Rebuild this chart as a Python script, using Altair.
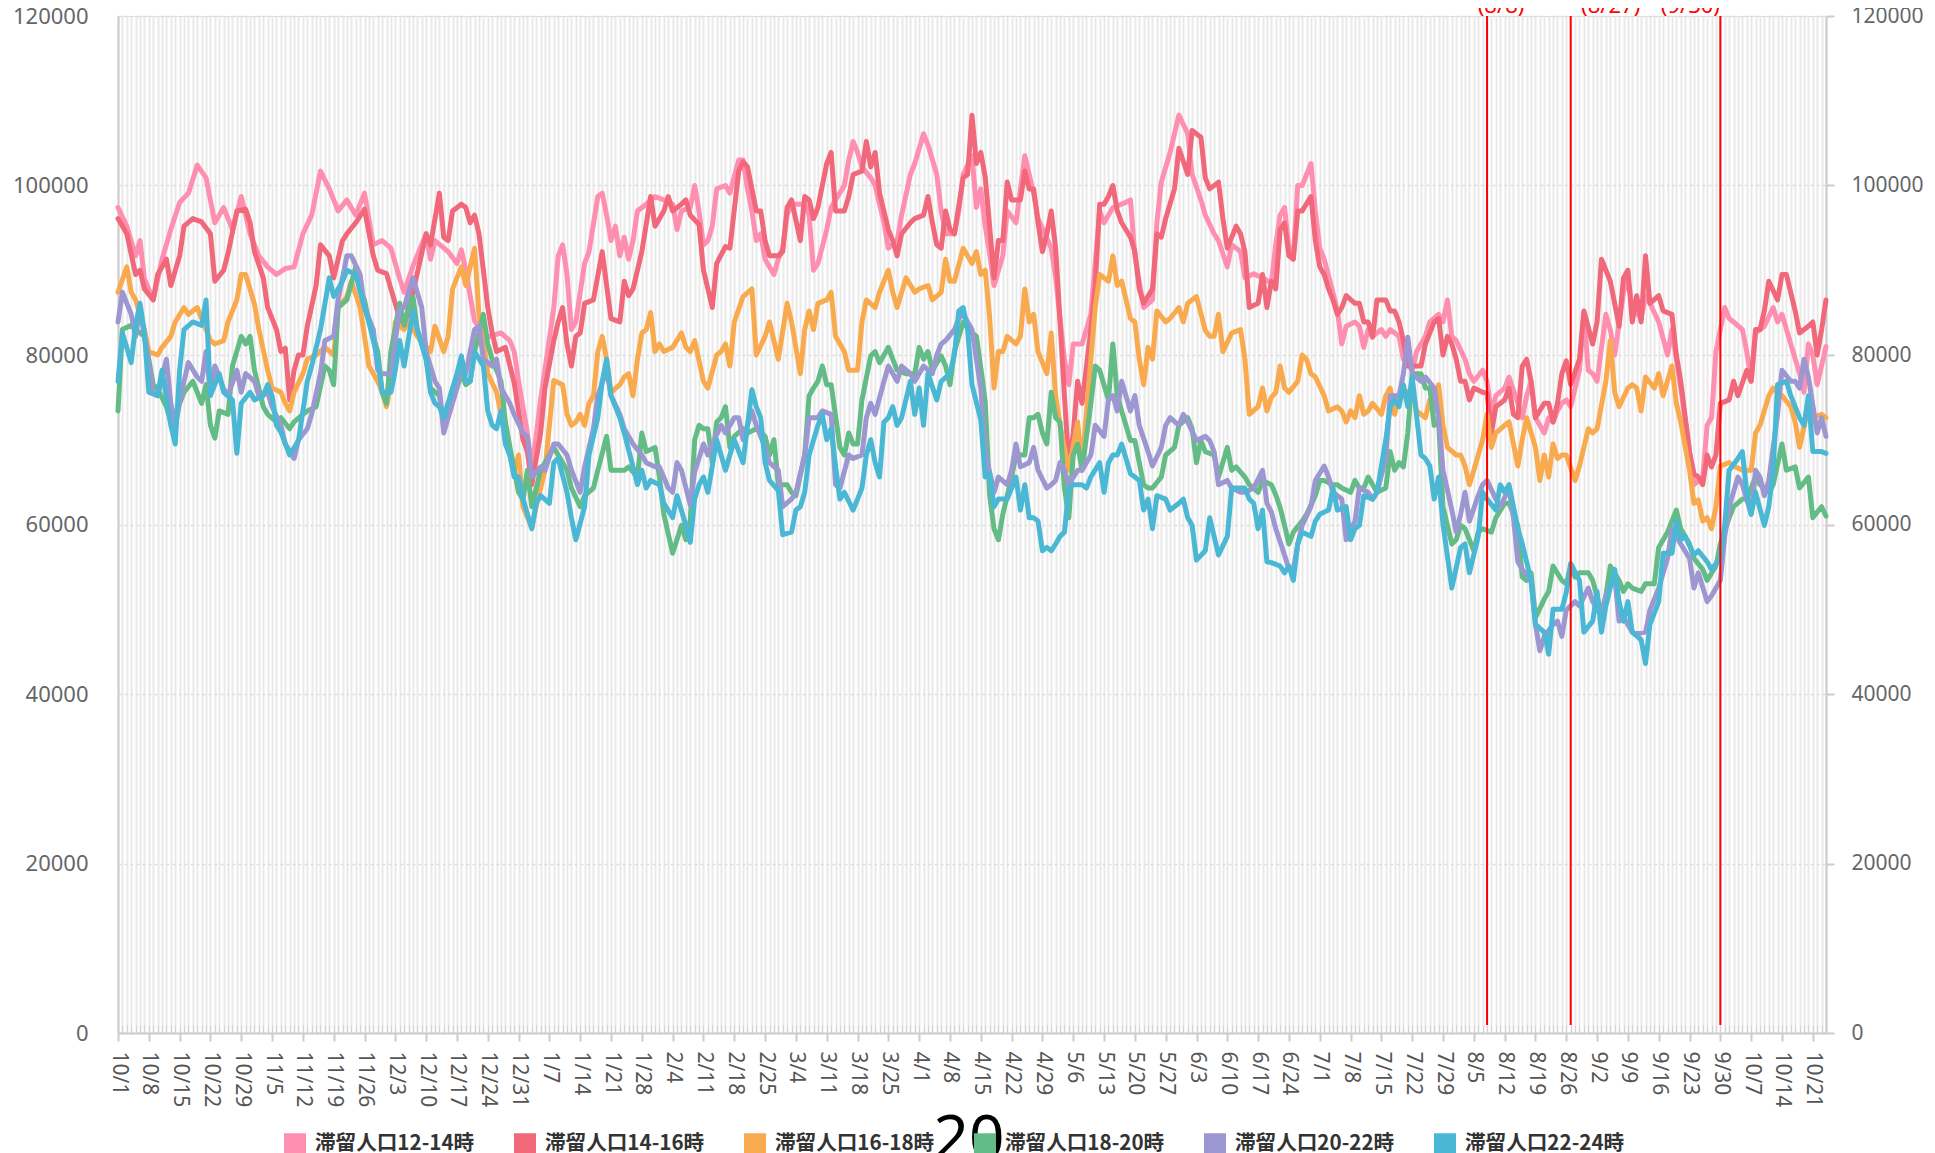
import altair as alt
import pandas as pd

NAMES = ["滞留人口12-14時", "滞留人口14-16時", "滞留人口16-18時",
         "滞留人口18-20時", "滞留人口20-22時", "滞留人口22-24時"]
COLORS = ["#ff8fb1", "#f0687a", "#f9aa4e", "#63bb85", "#9d97d1", "#4ab8d5"]

# (day offset from 2020-10-01, value)
S12_14 = [(0,97400),(2,95200),(4,91700),(5,93500),(6,89000),(8,86500),(10,91300),(12,94800),(14,98000),(16,99100),(18,102400),(20,100900),(22,95600),(24,97400),(26,94800),(28,98700),(30,94300),(32,91700),(34,90400),(36,89500),(38,90200),(40,90400),(42,94300),(44,96500),(46,101700),(48,99600),(50,97000),(52,98300),(54,96500),(56,99100),(58,93000),(60,93500),(62,92600),(64,89000),(65,87400),(67,90500),(70,94300),(71,91300),(72,93500),(75,92200),(77,90800),(78,92400),(79,90000),(81,84000),(84,82100),(87,82600),(89,81700),(90,80400),(91,76900),(93,70800),(94,66400),(96,74700),(99,85600),(100,91700),(101,93000),(102,89500),(103,83000),(104,83900),(105,87400),(106,90800),(107,92200),(109,98700),(110,99100),(111,96500),(112,93500),(113,95200),(114,91700),(115,93900),(116,91300),(117,93500),(118,97000),(120,97800),(122,98700),(124,98300),(126,97800),(127,94800),(128,97000),(130,97400),(131,100000),(132,96900),(133,93000),(134,93500),(135,95200),(136,99600),(138,100000),(139,99100),(141,103000),(142,103000),(143,99600),(144,97000),(145,93500),(146,94300),(147,91300),(149,89500),(150,91300),(151,92600),(152,96500),(153,97800),(155,97800),(156,97800),(157,96500),(158,90000),(159,90800),(161,94800),(162,97400),(163,98300),(165,100000),(166,103000),(167,105200),(168,103900),(169,102200),(171,100900),(172,100000),(174,95600),(175,92600),(177,93500),(178,96500),(180,101300),(181,102600),(183,106100),(184,104800),(186,101300),(187,97000),(188,94300),(190,94300),(191,97000),(192,101300),(194,103500),(195,97400),(196,99600),(197,95200),(198,92000),(199,88200),(201,91700),(202,97000),(204,95600),(206,103500),(208,99100),(209,96100),(212,92600),(213,89100),(215,79500),(216,76500),(217,81300),(219,81300),(221,84800),(223,97000),(224,95600),(226,97400),(228,97800),(230,98300),(231,91700),(233,85600),(235,86500),(236,95600),(237,100400),(239,103900),(241,108300),(243,106100),(244,101300),(246,98300),(247,96500),(249,94300),(250,93500),(252,90400),(253,93000),(255,92200),(256,89100),(258,89600),(260,89100),(262,88500),(263,93000),(264,96500),(265,97400),(266,92600),(267,91700),(268,100000),(269,100000),(271,102600),(272,97000),(273,92600),(274,91300),(276,87400),(277,85200),(278,81300),(279,83400),(281,83900),(282,83400),(283,80900),(284,83000),(285,82200),(287,83000),(288,82200),(289,83000),(291,82200),(292,79500),(294,78200),(295,80400),(297,82200),(298,83900),(300,84800),(301,83900),(302,86500),(303,82200),(304,81700),(306,79500),(307,77800),(308,76900),(310,78200),(311,76900),(312,73000),(313,75200),(315,76100),(316,77400),(318,74300),(319,72600),(320,75200),(321,76900),(322,72600),(324,70800),(325,72600),(326,72100),(327,73400),(328,74300),(329,74700),(330,73900),(332,78200),(333,84800),(334,78200),(335,77800),(336,76900),(338,84800),(339,83000),(340,80000),(342,87400),(343,89100),(344,85600),(346,84300),(347,87000),(348,86100),(350,83900),(352,80000),(353,83000),(354,79500),(355,76100),(357,68600),(358,64700),(360,65600),(361,71700),(362,72600),(363,80400),(365,85600),(366,84300),(367,83900),(369,83000),(370,80400),(371,76900),(372,82600),(374,83400),(376,85600),(377,83900),(378,84800),(380,81300),(382,77800),(383,75600),(384,81300),(385,80000),(386,76500),(388,81000)]

S14_16 = [(0,96100),(2,94300),(4,89500),(5,90000),(6,87800),(8,86500),(9,89500),(11,91300),(12,88200),(14,91700),(15,95200),(17,96100),(19,95700),(21,94300),(22,88700),(24,90000),(25,92000),(27,97000),(29,97200),(30,95600),(31,92200),(33,89100),(34,85600),(36,83000),(37,80400),(38,80800),(39,74700),(40,78200),(41,80000),(42,80000),(43,83400),(45,88200),(46,93000),(48,91700),(49,89100),(51,93500),(52,94300),(54,95600),(56,97200),(58,91700),(59,90000),(61,89600),(62,87800),(64,84300),(65,83400),(66,85000),(67,87400),(70,94300),(71,93000),(73,99100),(74,93900),(75,93500),(76,97000),(78,97800),(79,97400),(80,95600),(81,96500),(82,94300),(83,90000),(84,85600),(85,82600),(86,80400),(88,80900),(90,76700),(92,70000),(93,68600),(94,64700),(96,70800),(97,76100),(99,81700),(100,83900),(101,85600),(102,81300),(103,78700),(104,82200),(105,82600),(106,86100),(108,86500),(110,92200),(111,88200),(112,84300),(114,83900),(115,88700),(116,87000),(117,87800),(119,92200),(121,98700),(122,95200),(124,97000),(125,98700),(126,97000),(128,97800),(129,98300),(130,96500),(132,95400),(133,90000),(135,85600),(136,90800),(138,92800),(139,92600),(141,101700),(142,102800),(143,102200),(145,97000),(146,97000),(147,93500),(148,91700),(150,91700),(151,92200),(152,97400),(153,98300),(155,93500),(156,98700),(157,98300),(158,96100),(159,97400),(161,102600),(162,103900),(163,97000),(165,97000),(166,98700),(167,101300),(169,101700),(170,105200),(171,102200),(172,103900),(173,99100),(175,94800),(176,93500),(177,91700),(178,94300),(180,95600),(181,96100),(183,96500),(184,98700),(185,95600),(186,93000),(187,92600),(188,97000),(189,94800),(190,94300),(192,100900),(193,101300),(194,108300),(195,102600),(196,103900),(197,101000),(198,95200),(199,89100),(200,93500),(201,93500),(202,100400),(203,98300),(205,98300),(206,101700),(207,99600),(208,99600),(209,95600),(210,92200),(211,94300),(212,97000),(213,92600),(214,83900),(215,75200),(216,66900),(217,70800),(218,76900),(219,74300),(221,83000),(222,88200),(223,97800),(224,97800),(225,98700),(226,100000),(227,97000),(228,95600),(230,93900),(231,92200),(232,87800),(233,86100),(235,87800),(236,94300),(237,93900),(238,96100),(240,99600),(241,104400),(243,101300),(244,106500),(246,105700),(247,100900),(248,99600),(250,100400),(251,96100),(252,92600),(254,95200),(255,94300),(256,92200),(257,85600),(259,86100),(260,89500),(261,85600),(262,88700),(263,87800),(264,94800),(265,95600),(266,91700),(267,91300),(268,97000),(269,97000),(271,98700),(272,93500),(273,90400),(274,89500),(275,87800),(276,86500),(277,84800),(278,85600),(279,87000),(281,86100),(282,86100),(283,83900),(284,83900),(285,82100),(286,86500),(288,86500),(289,85200),(290,85200),(291,83900),(292,81700),(293,78700),(294,78700),(296,78700),(297,81300),(299,83900),(300,84300),(301,80000),(302,82200),(303,81300),(304,79500),(305,76900),(306,76900),(307,74700),(308,76100),(310,75600),(311,75500),(312,70800),(313,73900),(315,74700),(316,76100),(317,73000),(318,72600),(319,78700),(320,79500),(321,76900),(322,72600),(324,74300),(325,74300),(326,72100),(327,74300),(328,77800),(329,79300),(330,76500),(332,79500),(333,85200),(335,81300),(336,83900),(337,91300),(339,88700),(341,83400),(342,89100),(343,90000),(344,83900),(345,87000),(346,83900),(347,91700),(348,86100),(350,87000),(351,85200),(353,84800),(354,80000),(355,76900),(357,68600),(358,66000),(359,65600),(360,64700),(361,68200),(362,66800),(363,68200),(364,74300),(366,74700),(367,76900),(368,75200),(370,78200),(371,76900),(372,83000),(373,83000),(374,85200),(375,88700),(377,86500),(378,89500),(379,89500),(381,85200),(382,82600),(384,83400),(385,83900),(386,80000),(387,83000),(388,86500)]

S16_18 = [(0,87400),(2,90400),(3,87400),(4,86500),(6,83000),(7,80400),(9,80000),(10,80900),(12,82200),(13,83900),(15,85600),(16,84800),(18,85600),(19,84300),(21,81700),(22,81300),(24,81700),(25,83900),(27,86500),(28,89500),(29,89500),(31,86000),(32,83000),(34,78200),(35,76100),(37,75600),(38,74300),(39,73400),(40,75600),(42,77800),(43,79500),(45,80000),(47,80900),(49,80000),(50,85600),(52,86900),(53,88700),(55,85600),(56,82200),(57,78700),(59,76900),(60,75600),(61,73900),(62,76900),(63,83900),(65,83000),(66,84000),(68,82200),(71,80400),(72,83400),(74,80400),(75,82200),(76,87800),(77,89100),(78,90400),(79,88200),(81,92600),(82,84800),(83,81700),(84,77800),(86,75600),(87,73000),(89,68200),(90,66400),(91,68200),(92,62100),(94,59600),(95,62100),(97,66400),(98,71700),(99,77000),(101,76500),(102,73000),(103,71700),(104,72100),(105,73000),(106,71700),(107,74300),(108,75200),(109,80400),(110,82200),(111,79500),(112,75600),(114,76500),(115,77400),(116,77800),(117,75200),(118,79500),(119,82600),(120,83000),(121,85000),(122,80400),(123,81300),(124,80400),(126,80900),(128,82600),(129,80900),(130,80400),(131,81700),(133,76900),(134,76100),(136,80000),(137,80400),(138,81300),(139,78700),(140,83900),(142,86900),(144,87800),(145,80000),(147,82200),(148,83900),(149,81700),(150,79500),(152,86100),(153,83900),(155,77800),(156,83000),(157,85200),(158,83000),(159,86100),(161,86500),(162,87400),(163,82200),(165,80400),(166,78200),(168,78200),(169,83900),(170,86500),(172,85600),(173,87400),(175,90000),(176,87400),(177,85600),(179,89100),(181,87400),(182,87800),(184,88200),(185,86500),(187,87400),(188,91300),(189,88700),(190,88700),(192,92600),(194,90800),(195,92200),(196,89500),(197,90000),(198,84500),(199,76100),(200,80400),(201,80400),(202,82200),(204,81300),(205,82200),(206,87800),(207,83900),(208,84800),(209,80400),(211,77800),(212,82600),(213,75200),(214,71700),(216,66400),(218,72100),(219,66900),(221,79500),(222,85600),(223,89500),(225,88700),(226,91700),(227,88200),(228,88700),(230,84300),(231,83900),(232,79500),(233,76500),(234,80900),(235,79500),(236,85200),(238,83900),(239,84300),(241,85600),(242,83900),(243,86100),(245,86900),(247,82900),(248,82200),(249,82200),(250,84800),(251,80400),(253,82600),(255,83000),(256,79500),(257,73000),(259,73900),(260,76100),(261,73400),(262,75000),(263,75600),(264,78700),(265,76100),(266,75600),(268,76900),(269,80000),(270,79500),(271,77800),(272,77400),(274,75200),(275,73400),(277,73900),(278,73400),(279,72100),(280,73400),(281,72600),(282,75200),(283,73000),(284,73400),(285,74300),(287,73000),(288,75200),(289,76100),(290,73000),(291,75200),(293,75600),(294,76100),(295,73400),(297,72600),(298,74700),(299,73400),(300,76500),(301,71700),(302,69100),(304,68200),(305,68200),(306,66900),(307,64700),(308,66400),(310,70000),(311,73000),(312,69100),(313,70800),(315,71700),(316,72100),(317,69500),(318,66900),(319,70000),(320,72600),(322,69100),(323,65200),(324,68200),(325,65600),(326,69500),(327,67800),(328,68200),(329,68200),(331,65200),(332,66900),(334,71300),(335,70800),(336,71300),(338,76900),(339,81700),(340,75600),(341,73900),(343,76100),(344,76500),(345,76100),(346,73400),(347,77400),(349,76100),(350,77800),(351,75200),(353,78700),(354,74300),(355,72100),(357,66400),(358,62500),(359,62900),(360,60400),(361,60800),(362,59500),(363,62100),(364,66900),(366,67300),(367,66900),(369,66400),(370,66400),(371,66400),(372,70800),(373,71700),(375,75200),(376,76100),(377,75600),(378,75200),(380,73900),(381,72100),(382,69100),(384,73900),(385,72600),(387,73000),(388,72600)]

S18_20 = [(0,73400),(1,83000),(3,83500),(4,83000),(6,82200),(7,79500),(8,76500),(9,76000),(11,73900),(12,72100),(13,73000),(15,75600),(17,76900),(18,75600),(19,74300),(20,76500),(21,71700),(22,70200),(23,73400),(25,73000),(26,78700),(28,82200),(29,81300),(30,82200),(31,78200),(33,73900),(34,73000),(36,72100),(37,72600),(39,71300),(40,72100),(42,73000),(43,73400),(45,73900),(47,78700),(48,78200),(49,76500),(50,85600),(52,86500),(54,90400),(55,87800),(56,86500),(57,83900),(59,80400),(60,75600),(61,74300),(62,80400),(64,86100),(65,83500),(66,85600),(67,86900),(68,83000),(70,79500),(71,76100),(73,75200),(74,71700),(75,74300),(77,76100),(78,77800),(79,76500),(80,76900),(81,80400),(83,84800),(84,81300),(85,79500),(87,76900),(88,72100),(90,66400),(91,63800),(92,62900),(93,66400),(94,62100),(96,66400),(97,67300),(99,69100),(100,68200),(102,66400),(103,64300),(105,62100),(106,63400),(108,64300),(109,66400),(111,70400),(112,66400),(113,66400),(115,66400),(116,66800),(118,65600),(119,70800),(120,68600),(122,69100),(123,65600),(124,61200),(126,56600),(128,59900),(129,58200),(130,60500),(131,70000),(132,71700),(133,71300),(134,71300),(135,67300),(136,72100),(137,72600),(138,73900),(139,69100),(140,70400),(142,71300),(143,70800),(145,71300),(147,70400),(148,68200),(149,70000),(150,64700),(152,64700),(153,63800),(154,63400),(156,68200),(157,75200),(158,76100),(159,76900),(160,78700),(161,76500),(162,76500),(164,69100),(165,68200),(166,70800),(167,69500),(168,69500),(169,74700),(171,79900),(172,80400),(173,79100),(175,80900),(176,79500),(177,78200),(179,77800),(181,77800),(182,80900),(183,79500),(184,80400),(185,78200),(187,79900),(188,78700),(189,76500),(190,80400),(192,83900),(194,82600),(195,82200),(196,78500),(197,74500),(198,63500),(199,59500),(200,58200),(201,61200),(203,65600),(204,68200),(206,68200),(207,72600),(208,72600),(209,73000),(210,70800),(211,69500),(212,75600),(213,72600),(214,72100),(215,64300),(216,60800),(217,68200),(218,69500),(219,66400),(221,74300),(222,78700),(223,78200),(225,74700),(226,81300),(227,75200),(228,73400),(230,69900),(231,69900),(233,64700),(234,64300),(235,64300),(237,65600),(238,68200),(240,69100),(241,71700),(243,72600),(244,71300),(245,67300),(246,69900),(247,68600),(249,68200),(250,65600),(252,69100),(253,66400),(254,66800),(256,65600),(257,64700),(259,63800),(260,65200),(262,64700),(263,63500),(264,62000),(265,59900),(266,57700),(267,59100),(269,60400),(270,61200),(272,63400),(273,65200),(274,65200),(276,64700),(277,64700),(278,64300),(280,63800),(281,65200),(282,64300),(283,64300),(284,65600),(286,63800),(288,64300),(289,68600),(290,66400),(291,67300),(292,66800),(293,70800),(294,77800),(296,77800),(297,76100),(298,76100),(299,71700),(300,72100),(301,62100),(303,57700),(304,58200),(305,59900),(306,59500),(308,56900),(309,59100),(310,59500),(312,59100),(313,60800),(315,62500),(316,62500),(318,59900),(319,53800),(320,53400),(321,54300),(322,49000),(324,51200),(325,52100),(326,55100),(328,53400),(329,53000),(330,55100),(331,53800),(332,54300),(334,54300),(335,53400),(337,49500),(338,51600),(339,55100),(341,53400),(342,52100),(343,53000),(344,52500),(346,52100),(347,53000),(349,53000),(350,57300),(352,59100),(353,60400),(354,61700),(355,59500),(357,57700),(358,56000),(360,54700),(361,53400),(363,55100),(364,57700),(366,60800),(367,62100),(369,63000),(370,63000),(372,65600),(373,64700),(375,63800),(376,64700),(378,69500),(379,66400),(381,66800),(382,64300),(384,65600),(385,60800),(387,62100),(388,61000)]

S20_22 = [(0,83900),(1,87400),(3,84800),(4,82200),(5,85600),(6,82200),(8,75600),(9,75200),(11,79500),(12,74300),(13,71700),(15,76900),(16,79100),(18,77400),(19,76900),(20,80400),(21,75600),(22,78700),(24,76000),(25,75200),(27,78200),(28,75600),(29,77800),(31,76900),(32,75200),(34,75600),(35,73900),(37,71700),(38,69500),(40,67800),(41,70000),(43,71300),(44,73000),(46,77800),(47,81700),(49,82200),(50,86500),(52,91700),(53,91700),(55,89500),(56,85600),(58,83000),(59,78200),(60,77800),(62,77800),(64,85500),(65,85600),(67,89100),(69,85600),(70,80400),(72,76900),(73,76100),(74,70800),(75,72600),(77,76100),(78,79500),(79,77800),(81,83000),(82,83400),(83,79500),(85,78700),(86,79500),(87,76100),(89,74300),(90,73000),(92,70800),(93,70400),(94,65600),(96,66800),(97,66400),(99,69500),(100,69500),(102,68200),(103,66400),(105,63800),(106,66800),(108,71300),(109,75200),(111,78200),(112,75200),(114,73000),(115,71300),(117,69500),(119,68200),(120,67300),(122,66800),(123,66800),(125,64300),(126,63800),(127,67300),(128,66400),(130,62300),(131,66200),(133,69500),(134,68200),(135,69500),(137,71700),(138,70800),(140,72600),(141,72600),(142,70000),(144,73400),(145,71700),(147,69100),(148,67300),(150,66400),(151,62100),(153,63000),(154,63800),(156,68200),(157,72600),(159,72600),(160,73400),(162,73000),(163,64700),(164,64300),(166,68200),(167,67800),(169,68200),(170,72600),(171,74300),(172,73000),(174,76900),(175,78700),(177,76900),(178,78700),(180,77800),(181,76900),(183,78700),(185,77800),(186,80000),(187,81300),(188,81700),(190,83000),(191,84300),(192,84800),(194,83000),(196,76000),(197,68600),(199,63800),(200,65600),(202,64700),(203,66400),(204,69500),(205,66800),(207,67300),(208,69100),(209,66400),(211,64300),(212,64700),(213,65200),(214,67300),(215,66400),(216,64700),(218,66400),(219,66400),(221,68200),(222,71700),(224,70400),(225,74700),(226,75200),(227,73400),(228,76900),(230,73400),(231,75200),(232,71700),(234,68600),(235,66900),(237,69100),(238,71700),(239,72600),(241,71700),(242,73000),(243,72100),(245,69900),(247,70400),(248,69900),(249,68600),(250,64700),(252,65200),(253,64300),(255,63800),(256,63800),(258,64300),(260,66400),(261,62500),(262,61500),(263,59500),(265,56400),(266,54700),(267,54700),(268,57700),(269,59900),(271,62100),(272,65200),(274,66900),(275,65600),(276,63800),(278,63000),(279,58200),(281,60400),(282,64300),(284,63800),(285,63000),(286,63800),(288,67800),(289,75200),(291,75200),(292,77800),(293,82100),(294,77800),(296,76900),(297,77400),(299,76100),(300,72600),(301,66400),(303,61700),(304,59100),(305,61200),(306,63800),(307,60400),(309,63400),(310,64700),(311,65200),(313,63000),(314,62100),(316,64300),(317,60800),(318,55600),(319,54700),(321,53400),(322,48200),(323,45100),(324,46800),(326,48200),(327,48600),(328,46800),(329,49900),(331,50900),(332,50400),(334,52500),(335,50900),(337,49100),(338,51600),(340,53800),(341,48600),(342,49100),(344,47300),(345,47100),(347,47300),(348,49900),(350,52500),(352,56000),(353,59500),(355,57700),(357,56000),(358,52500),(359,54300),(361,50900),(362,51600),(364,53400),(365,58600),(366,62100),(368,65600),(369,64700),(371,61200),(372,66400),(373,65600),(374,63400),(375,65200),(377,73000),(378,78200),(380,76900),(381,76900),(382,76100),(383,79500),(384,77400),(386,70800),(387,72600),(388,70400)]

S22_24 = [(0,76900),(1,82600),(3,79100),(4,83500),(5,86100),(6,82600),(7,75600),(9,75200),(10,78200),(12,71700),(13,69500),(14,78200),(15,83000),(17,83900),(19,83500),(20,86500),(21,75200),(23,77800),(24,75600),(26,74700),(27,68400),(28,74300),(30,75600),(31,74700),(33,75200),(34,76500),(35,75200),(36,71700),(37,70900),(39,68200),(41,69900),(43,76900),(44,78700),(46,83000),(48,89100),(49,86900),(51,88700),(52,90000),(54,89500),(56,85600),(57,83900),(59,79500),(60,75600),(62,75600),(63,78200),(64,81700),(65,78700),(67,85200),(68,83000),(70,79500),(71,75600),(72,74300),(73,73900),(74,72600),(76,76100),(77,77800),(78,79900),(79,76900),(80,76900),(81,80400),(83,78700),(84,73400),(85,71700),(86,71300),(87,73400),(88,69500),(89,68200),(90,65600),(91,65600),(92,63000),(94,59500),(95,62500),(96,63400),(98,62500),(99,67300),(100,67800),(102,63800),(103,60800),(104,58200),(106,62100),(107,68200),(109,72600),(110,76900),(111,79500),(112,75200),(114,72600),(115,70800),(117,66800),(118,64700),(119,66400),(120,64300),(121,65200),(123,64700),(124,62500),(126,60800),(127,63400),(129,59900),(130,57900),(131,63000),(132,64700),(133,65600),(134,63800),(136,70000),(137,68200),(138,66400),(139,68200),(140,70000),(142,67300),(143,71700),(144,75900),(145,73900),(146,72600),(147,67300),(148,65200),(150,64000),(151,58800),(153,59100),(154,61700),(155,62100),(156,63800),(157,68200),(159,71700),(160,73000),(161,70000),(162,71300),(163,66900),(164,63000),(165,63800),(167,61700),(169,64300),(170,68200),(171,70000),(172,67300),(173,65600),(174,72100),(175,72600),(176,73900),(177,71700),(178,72600),(180,76900),(181,73000),(182,76100),(183,71700),(184,77800),(186,74700),(187,76900),(189,77800),(190,80000),(191,85200),(192,85600),(193,83000),(194,76500),(196,72300),(197,65600),(198,66000),(199,62100),(200,63000),(202,63000),(203,64300),(204,65600),(205,61700),(206,64700),(207,60800),(208,60800),(209,60400),(210,56900),(211,57300),(212,56900),(213,57700),(214,58600),(215,59100),(216,64300),(217,64700),(219,64700),(220,64300),(221,65600),(223,67300),(224,63800),(225,67300),(226,68200),(227,68200),(228,69500),(230,66000),(231,65600),(232,65200),(233,61700),(234,63000),(235,59500),(236,63400),(238,63000),(239,61700),(241,62500),(242,63000),(243,60800),(244,59900),(245,55800),(247,56900),(248,60800),(249,58600),(250,56400),(252,58600),(253,64300),(254,64300),(256,64300),(257,63000),(258,62500),(259,59500),(260,61700),(261,55600),(262,55500),(264,55100),(265,54300),(266,55100),(267,53400),(268,57700),(269,59100),(271,58600),(272,60400),(273,61200),(275,61700),(276,64300),(277,61700),(279,62100),(280,58200),(281,59500),(282,59900),(283,63400),(285,63000),(286,63800),(288,70000),(289,73900),(290,74700),(291,73900),(292,76500),(293,73900),(294,77400),(296,68200),(297,67800),(298,66900),(299,63000),(300,65600),(301,60000),(303,52500),(305,57300),(306,57700),(307,54300),(309,58600),(310,63800),(311,63000),(313,61700),(314,64700),(315,63800),(316,64700),(318,59500),(319,57700),(320,55600),(321,53400),(322,48200),(324,47300),(325,44700),(326,50000),(328,50000),(329,52000),(330,55400),(332,53400),(333,47300),(335,48600),(336,52100),(337,47300),(338,50400),(340,54700),(341,50900),(342,48600),(343,50900),(344,47300),(346,46400),(347,43600),(348,48200),(350,50900),(351,56600),(353,56600),(354,60400),(355,58200),(356,58600),(358,56400),(359,56900),(361,55600),(362,54700),(364,56000),(365,60000),(366,66400),(368,67800),(369,68600),(370,63800),(371,61200),(372,63800),(374,59900),(375,62100),(376,66400),(377,76500),(379,76900),(380,75200),(382,72600),(383,71700),(384,75200),(385,68600),(387,68600),(388,68400)]

ANNOT_DAYS = [311, 330, 364]
ANNOT_LABELS = ["(8/8)", "(8/27)", "(9/30)"]
LAST_DAY = 388
Y_TICKS = [0, 20000, 40000, 60000, 80000, 100000, 120000]

SERIES = [S12_14, S14_16, S16_18, S18_20, S20_22, S22_24]
rows = []
for name, pts in zip(NAMES, SERIES):
    for d, v in pts:
        rows.append({"day": d, "value": v, "series": name})
df = pd.DataFrame(rows)

W, H = 1708, 1017
FONT = "Noto Sans"
CJK = "Noto Sans CJK JP"

xscale = alt.Scale(domain=[0, LAST_DAY], nice=False, zero=False)
yscale = alt.Scale(domain=[0, 120000], nice=False)
cscale = alt.Scale(domain=NAMES, range=COLORS)

legend = alt.Legend(
    title=None, orient="none", legendX=166, legendY=1117, direction="horizontal",
    columns=6, symbolType="square", symbolSize=121, symbolStrokeWidth=11,
    symbolOpacity=1, labelFontSize=20.6, labelFont=CJK, labelColor="#333333",
    labelFontWeight="bold", labelOffset=9, columnPadding=22, labelLimit=400, padding=0,
)

x_grid_axis = alt.Axis(orient="bottom", values=list(range(0, LAST_DAY + 1)), grid=True,
                       gridColor="#e9e9e9", gridWidth=2, domain=False, ticks=False,
                       labels=False, title=None)
x_minor_axis = alt.Axis(orient="bottom", values=list(range(0, LAST_DAY + 1)), grid=False,
                        domain=False, ticks=True, tickSize=8, tickColor="#d4d4d4",
                        tickWidth=1, labels=False, offset=-8, title=None)
x_main_axis = alt.Axis(orient="bottom", values=list(range(0, LAST_DAY + 1, 7)), grid=False,
                       domain=True, domainColor="#cccccc", domainWidth=2, ticks=True,
                       tickSize=8, tickColor="#cccccc", tickWidth=2, labelAngle=90,
                       labelAlign="left", labelBaseline="middle", labelFontSize=21,
                       labelFont=FONT, labelColor="#555555", labelPadding=10,
                       labelFlush=False, labelOverlap=False, title=None,
                       labelExpr="timeFormat(datetime(2020, 9, 1 + datum.value), '%-m/%-d')")
y_left_axis = alt.Axis(orient="left", values=Y_TICKS, format="d", grid=True,
                       gridColor="#dddddd", gridDash=[3, 3], gridWidth=1.5, domain=True,
                       domainColor="#cccccc", domainWidth=2, ticks=False, labelFontSize=22,
                       labelFont=FONT, labelColor="#666666", labelPadding=30, title=None)
y_right_axis = alt.Axis(orient="right", values=Y_TICKS, format="d", grid=False, domain=True,
                        domainColor="#cccccc", domainWidth=2, ticks=True, tickSize=8,
                        tickColor="#cccccc", tickWidth=2, labelFontSize=21, labelFont=FONT,
                        labelColor="#666666", labelPadding=17, title=None)

x_axes = [x_grid_axis, x_minor_axis, x_main_axis, None, None, None]
y_axes = [y_left_axis, y_right_axis, None, None, None, None]

layers = []
for name, xa, ya in zip(NAMES, x_axes, y_axes):
    layers.append(
        alt.Chart(df).transform_filter(alt.datum.series == name)
        .mark_line(strokeWidth=5, strokeJoin="round", strokeCap="round")
        .encode(
            x=alt.X("day:Q", scale=xscale, axis=xa, title=None),
            y=alt.Y("value:Q", scale=yscale, axis=ya, title=None),
            color=alt.Color("series:N", scale=cscale, legend=legend),
        )
    )

ann_df = pd.DataFrame({"day": ANNOT_DAYS, "label": ANNOT_LABELS})
rules = alt.Chart(ann_df).mark_rule(color="#ff0000", strokeWidth=2).encode(
    x=alt.X("day:Q", scale=xscale, axis=None),
    y=alt.value(0), y2=alt.value(H - 8),
)
layers.append(rules)

for i, dx in enumerate([14, 40, -30]):
    layers.append(
        alt.Chart(ann_df.iloc[[i]]).mark_text(color="#ff0000", fontSize=22, font=FONT,
                                              baseline="bottom", align="center", dx=dx)
        .encode(x=alt.X("day:Q", scale=xscale, axis=None), y=alt.value(2), text="label:N")
    )

big = alt.Chart(pd.DataFrame({"t": ["20"]})).mark_text(
    fontSize=62, font=FONT, color="#000000", baseline="alphabetic", align="center"
).encode(x=alt.value(851), y=alt.value(1143), text="t:N")
layers.append(big)

chart = alt.layer(*layers).resolve_axis(x="independent", y="independent").properties(
    width=W, height=H,
    padding={"left": 110, "top": 8, "right": 101, "bottom": 120},
    autosize=alt.AutoSizeParams(type="none"),
).configure_view(stroke="#dddddd", strokeWidth=1.5, fill="#ffffff").configure(background="#ffffff")

chart.save("out.html", embed_options={"renderer": "svg", "actions": False})
